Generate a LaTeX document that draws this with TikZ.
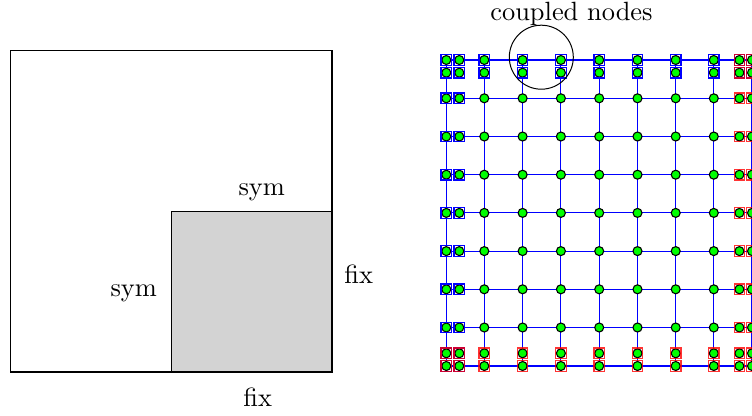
\documentclass[tikz,border=0pt]{standalone}
\usepackage{xcolor}
\usetikzlibrary{backgrounds}
\definecolor{nodegreen}{RGB}{0,255,0}
\definecolor{regiongray}{RGB}{211,211,211}

\begin{document}
\begin{tikzpicture}[x=1pt,y=-1pt]
\tikzstyle{mesh}=[circle, draw, fill=nodegreen, line width=1.1pt, minimum size=9pt, inner sep=0pt]
\tikzstyle{symbox}=[draw=blue, line width=1.2pt, minimum size=10.5pt, inner sep=0pt]
\tikzstyle{fixbox}=[draw=red, draw opacity=.8, line width=1.2pt, minimum size=10.5pt, inner sep=0pt]
\tikzstyle{link}=[draw=blue, line width=1.1pt]
\tikzstyle{label}=[anchor=base, inner sep=0pt, scale=2.64]
\useasboundingbox (0,0) rectangle (752,415);

% left part
\coordinate (tl) at (10.5,50.5);
\coordinate (tr) at (332,50.5);
\coordinate (br) at (332,372);
\coordinate (bl) at (10.5,372);
\coordinate (mm) at (171.5,211.5);
\coordinate (mr) at (332,211.5);
\coordinate (mb) at (171.5,372);
\draw[fill=regiongray, line width=1pt] (mm) -- (mr) -- (br) -- (mb) -- cycle;
\draw[line width=1.5pt] (tl) -- (tr) -- (br) -- (bl) -- cycle;
\node[label] (symtop) at (261.7,195) {sym};
\node[label] (symleft) at (133.7,296.7) {sym};
\node[label] (fixright) at (358.8,283.3) {fix};
\node[label] (fixbottom) at (257.8,406.7) {fix};

% right part
\foreach \col/\x in {1/446.3,2/459.3,3/484.3,4/522.6,5/560.9,6/599.2,7/637.5,8/675.7,9/713.8,10/739.4,11/752}
  \foreach \row/\y in {1/60,2/72.7,3/98.3,4/136.5,5/174.7,6/212.9,7/251.1,8/289.3,9/327.5,10/353.3,11/366}
    \node[mesh] (n-\col-\row) at (\x,\y) {};

\begin{scope}[on background layer]
\foreach \row in {1,3,4,5,6,7,8,9,11}
  \draw[link] (n-1-\row) -- (n-11-\row);
\foreach \col in {1,3,4,5,6,7,8,9,11}
  \draw[link] (n-\col-1) -- (n-\col-11);
\end{scope}

\foreach \row in {1,2}
  \foreach \col in {1,...,11}
    \node[symbox] (b-\col-\row) at (n-\col-\row) {};
\foreach \row in {3,...,11}
  \foreach \col in {1,2}
    \node[symbox] (b-\col-\row) at (n-\col-\row) {};
\foreach \row in {10,11}
  \foreach \col in {1,...,11}
    \node[fixbox] (r-\col-\row) at (n-\col-\row) {};
\foreach \row in {1,...,9}
  \foreach \col in {10,11}
    \node[fixbox] (r-\col-\row) at (n-\col-\row) {};

\node[circle, draw, line width=1pt, minimum size=64pt, inner sep=0pt] (coupled) at (541.3,57.2) {};
\node[label] (coupledlabel) at (571.5,20.7) {coupled nodes};
\end{tikzpicture}
\end{document}
